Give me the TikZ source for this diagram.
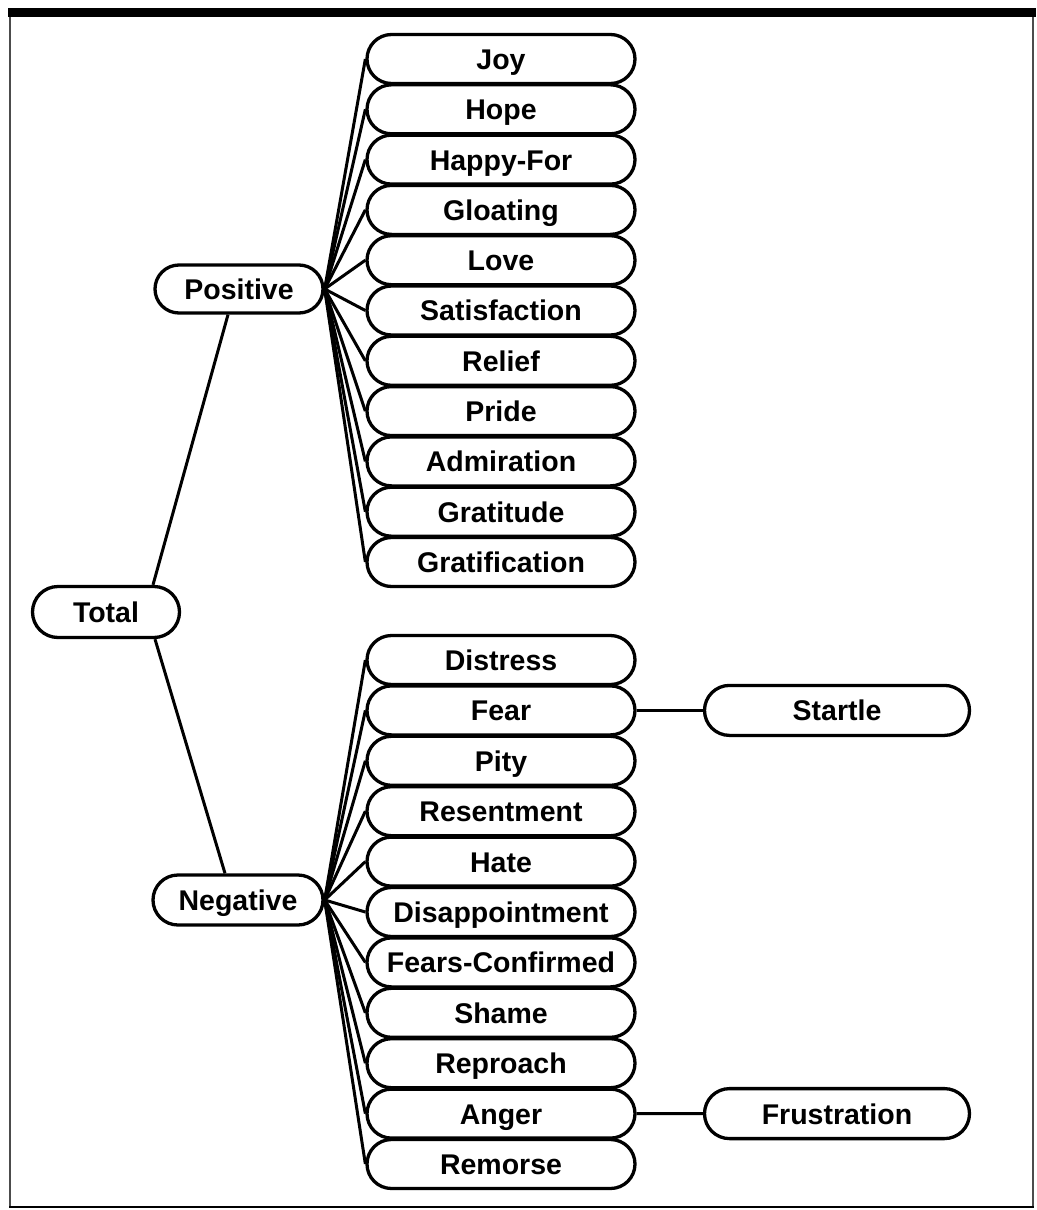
\documentclass[tikz,border=0pt]{standalone}
\usepackage{fontspec}
\setmainfont{Liberation Sans}
\usetikzlibrary{shapes.misc,backgrounds}
\begin{document}
\begin{tikzpicture}[x=1pt,y=-1pt,
  box/.style={rounded rectangle, draw, line width=3.3pt, fill=white, inner sep=0pt,
    minimum height=49pt, text height=26pt, text depth=5.2pt,
    font=\fontsize{28.5}{34}\selectfont\bfseries},
  leaf/.style={box, minimum width=268pt},
  link/.style={line width=3pt}]
\useasboundingbox (0,0) rectangle (1036,1210);
% frame
\fill[black] (8,8) rectangle (1036,17);
\draw[gray!60!black, line width=1.5pt] (10,17) -- (10,1207);
\draw[gray!60!black, line width=1.5pt] (1033,17) -- (1033,1207);
\draw[black, line width=2pt] (9,1207) -- (1034,1207);
% main nodes
\node[box, minimum width=147pt, minimum height=51pt] (Total) at (106,612) {Total};
\node[box, minimum width=168pt, minimum height=48pt] (Positive) at (239,289) {Positive};
\node[box, minimum width=170pt, minimum height=50pt] (Negative) at (238,900) {Negative};
% positive leaves
\foreach \t [count=\i from 0] in {Joy,Hope,Happy-For,Gloating,Love,Satisfaction,Relief,Pride,Admiration,Gratitude,Gratification}{
  \node[leaf] (p\i) at (501,59+50.3*\i) {\t};
}
% negative leaves
\foreach \t [count=\i from 0] in {Distress,Fear,Pity,Resentment,Hate,Disappointment,Fears-Confirmed,Shame,Reproach,Anger,Remorse}{
  \node[leaf] (n\i) at (501,660+50.4*\i) {\t};
}
\node[box, minimum width=265pt, minimum height=50pt] (Startle) at (837,710.4) {Startle};
\node[box, minimum width=265pt, minimum height=50pt] (Frustration) at (837,1113.6) {Frustration};
% connectors
\begin{scope}[on background layer]
\draw[link] ([xshift=47pt]Total.north) -- ([xshift=-11pt]Positive.south);
\draw[link] ([xshift=49pt]Total.south) -- ([xshift=-13pt]Negative.north);
\foreach \i in {0,...,10}{
  \draw[link] (Positive.east) -- (p\i.west);
  \draw[link] (Negative.east) -- (n\i.west);
}
\draw[link] (n1.east) -- (Startle.west);
\draw[link] (n9.east) -- (Frustration.west);
\end{scope}
\end{tikzpicture}
\end{document}
